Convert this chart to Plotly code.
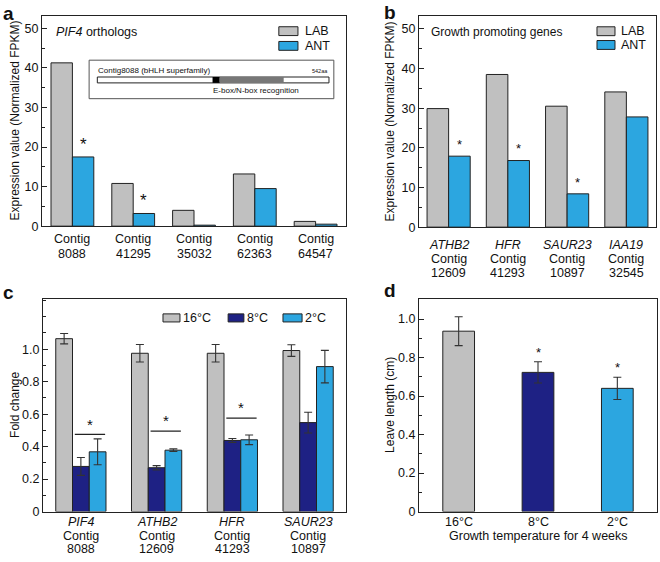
import plotly.graph_objects as go

# ---------------- data ----------------
# panel a
contigs_a = ["8088", "41295", "35032", "62363", "64547"]
lab_a = [41.3, 10.8, 4.0, 13.2, 1.2]
ant_a = [17.5, 3.2, 0.25, 9.5, 0.5]
sig_a = [True, True, False, False, False]

# panel b
genes_b = ["ATHB2", "HFR", "SAUR23", "IAA19"]
contigs_b = ["12609", "41293", "10897", "32545"]
lab_b = [29.9, 38.5, 30.5, 34.1]
ant_b = [17.9, 16.8, 8.4, 27.8]
sig_b = [True, True, True, False]

# panel c
genes_c = ["PIF4", "ATHB2", "HFR", "SAUR23"]
contigs_c = ["8088", "12609", "41293", "10897"]
fc_16 = [1.065, 0.975, 0.975, 0.992]
err_16 = [0.032, 0.054, 0.054, 0.036]
fc_8 = [0.278, 0.270, 0.438, 0.548]
err_8 = [0.055, 0.013, 0.012, 0.064]
fc_2 = [0.368, 0.378, 0.442, 0.893]
err_2 = [0.080, 0.008, 0.030, 0.100]
sig_line_c = [0.475, 0.495, 0.575, None]

# panel d
temps_d = ["16°C", "8°C", "2°C"]
leaf_d = [0.937, 0.723, 0.640]
leaf_err_d = [0.075, 0.055, 0.058]
sig_d = [False, True, True]

ticks_a = [0, 10, 20, 30, 40, 50]
ticks_c = [0, 0.2, 0.4, 0.6, 0.8, 1.0]
ticktext_c = ["0", "0.2", "0.4", "0.6", "0.8", "1.0"]

# ---------------- style ----------------
GRAY = "#C0C0C0"
BLUE = "#2CA6E0"
NAVY = "#1E2184"
FONT = "Liberation Sans, Arial, sans-serif"
W, H = 660, 562
TXT = 12.5

def px_x(a, b):
    return [a / W, b / W]

def px_y(top, bottom):
    return [1 - bottom / H, 1 - top / H]

fig = go.Figure()
line_style = dict(color="#222", width=1)

# ---- panel a ----
xa = list(range(len(contigs_a)))
fig.add_trace(go.Bar(x=xa, y=lab_a, width=0.352, offset=-0.352, marker=dict(color=GRAY, line=line_style),
                     xaxis="x", yaxis="y", showlegend=False))
fig.add_trace(go.Bar(x=xa, y=ant_a, width=0.352, offset=0, marker=dict(color=BLUE, line=line_style),
                     xaxis="x", yaxis="y", showlegend=False))

# ---- panel b ----
xb = list(range(len(genes_b)))
fig.add_trace(go.Bar(x=xb, y=lab_b, width=0.364, offset=-0.364, marker=dict(color=GRAY, line=line_style),
                     xaxis="x2", yaxis="y2", showlegend=False))
fig.add_trace(go.Bar(x=xb, y=ant_b, width=0.364, offset=0, marker=dict(color=BLUE, line=line_style),
                     xaxis="x2", yaxis="y2", showlegend=False))

# ---- panel c ----
xc = list(range(len(genes_c)))
bw = 0.221
eb = dict(type="data", thickness=1.1, width=4, color="#333")
for vals, errs, col, off in [(fc_16, err_16, GRAY, -1.5), (fc_8, err_8, NAVY, -0.5), (fc_2, err_2, BLUE, 0.5)]:
    fig.add_trace(go.Bar(x=xc, y=vals, width=bw, offset=off * bw,
                         error_y=dict(array=errs, **eb),
                         marker=dict(color=col, line=line_style),
                         xaxis="x3", yaxis="y3", showlegend=False))

# ---- panel d ----
xd = list(range(len(temps_d)))
fig.add_trace(go.Bar(x=xd, y=leaf_d, width=0.4, offset=-0.2,
                     error_y=dict(array=leaf_err_d, **eb),
                     marker=dict(color=[GRAY, NAVY, BLUE], line=line_style),
                     xaxis="x4", yaxis="y4", showlegend=False))

# ---------------- axes ----------------
tickfont = dict(family=FONT, size=TXT, color="#111")
axline = dict(showline=True, linecolor="#222", linewidth=1.2, mirror=True, zeroline=False,
              showgrid=False)

def yaxis(domain, rng, tickvals, ticktext, minor_dtick, anchor):
    return dict(domain=domain, range=rng, tickvals=tickvals, ticktext=ticktext,
                ticks="inside", ticklen=5, tickwidth=1, tickcolor="#222",
                minor=dict(ticks="inside", ticklen=3, tickwidth=1, tickcolor="#222",
                           tickmode="linear", tick0=0, dtick=minor_dtick),
                tickfont=tickfont, anchor=anchor, fixedrange=True, **axline)

def xaxis(domain, n, anchor):
    # category labels are drawn below as stacked text lines
    return dict(domain=domain, range=[-0.5, n - 0.5], tickvals=list(range(n)),
                showticklabels=False, ticks="", anchor=anchor, fixedrange=True, **axline)

fig.update_layout(
    width=W, height=H, margin=dict(l=0, r=0, t=0, b=0),
    paper_bgcolor="white", plot_bgcolor="white",
    font=dict(family=FONT, color="#111"),
    barmode="overlay",
    xaxis=xaxis(px_x(42, 346), len(contigs_a), "y"),
    yaxis=yaxis(px_y(16, 229), [0, 53.2], ticks_a, [str(v) for v in ticks_a], 5, "x"),
    xaxis2=xaxis(px_x(419, 656), len(genes_b), "y2"),
    yaxis2=yaxis(px_y(16, 230), [0, 53.3], ticks_a, [str(v) for v in ticks_a], 5, "x2"),
    xaxis3=xaxis(px_x(43, 346), len(genes_c), "y3"),
    yaxis3=yaxis(px_y(303, 518), [0, 1.308], ticks_c, ticktext_c, 0.1, "x3"),
    xaxis4=xaxis(px_x(419, 657), len(temps_d), "y4"),
    yaxis4=yaxis(px_y(303, 518), [0, 1.103], ticks_c, ticktext_c, 0.1, "x4"),
)

ann = []
shapes = []

def text(x, y, s, size=12, xref="paper", yref="paper", xanchor="center", yanchor="middle", angle=0,
         bold=False):
    ann.append(dict(x=x, y=y, text=(f"<b>{s}</b>" if bold else s), xref=xref, yref=yref,
                    xanchor=xanchor, yanchor=yanchor, textangle=angle, showarrow=False,
                    borderpad=0, font=dict(family=FONT, size=size, color="#111")))

# category labels (stacked lines under each group)
def cat_labels(xref, labels_lines, ys):
    for i, lines in enumerate(labels_lines):
        for s, yy in zip(lines, ys):
            text(i, 1 - yy / H, s, TXT, xref=xref)

cat_labels("x", [["Contig", c] for c in contigs_a], [242, 257])
cat_labels("x2", [[f"<i>{g}</i>", "Contig", c] for g, c in zip(genes_b, contigs_b)], [248, 262, 276])
cat_labels("x3", [[f"<i>{g}</i>", "Contig", c] for g, c in zip(genes_c, contigs_c)], [529, 543, 556])
cat_labels("x4", [[t] for t in temps_d], [529])

# panel letters
text(2 / W, 1 - 2 / H, "a", 19, xanchor="left", yanchor="top", bold=True)
text(383 / W, 1 - 1 / H, "b", 19, xanchor="left", yanchor="top", bold=True)
text(2 / W, 1 - 285 / H, "c", 19, xanchor="left", yanchor="top", bold=True)
text(383 / W, 1 - 283 / H, "d", 19, xanchor="left", yanchor="top", bold=True)

# y titles
text(15 / W, 1 - 122 / H, "Expression value (Normalized FPKM)", 12, angle=-90)
text(390 / W, 1 - 123 / H, "Expression value (Normalized FPKM)", 12, angle=-90)
text(15 / W, 1 - 410 / H, "Fold change", 12, angle=-90)
text(390 / W, 1 - 410 / H, "Leave length (cm)", 12, angle=-90)
text(538 / W, 1 - 543 / H, "Growth temperature for 4 weeks", 12.5)

# in-plot titles
text(0.043, 0.925, "<i>PIF4</i> orthologs", 12.5, xref="x domain", yref="y domain", xanchor="left")
text(0.046, 0.925, "Growth promoting genes", 12, xref="x2 domain", yref="y2 domain", xanchor="left")

# legends
def legend_box(xr, yr, x0, x1, yc, h, color, label, size=13, gap=0.02):
    shapes.append(dict(type="rect", xref=xr, yref=yr, x0=x0, x1=x1, y0=yc - h, y1=yc + h,
                       fillcolor=color, line=dict(color="#222", width=1)))
    text(x1 + gap, yc, label, size, xref=xr, yref=yr, xanchor="left")

legend_box("x domain", "y domain", 0.779, 0.842, 0.927, 0.021, GRAY, "LAB", 12.5)
legend_box("x domain", "y domain", 0.779, 0.842, 0.857, 0.021, BLUE, "ANT", 12.5)
legend_box("x2 domain", "y2 domain", 0.751, 0.827, 0.927, 0.021, GRAY, "LAB", 12.5)
legend_box("x2 domain", "y2 domain", 0.751, 0.827, 0.862, 0.021, BLUE, "ANT", 12.5)
legend_box("x3 domain", "y3 domain", 0.396, 0.452, 0.912, 0.019, GRAY, "16°C", 12.5, 0.008)
legend_box("x3 domain", "y3 domain", 0.611, 0.663, 0.912, 0.019, NAVY, "8°C", 12.5, 0.008)
legend_box("x3 domain", "y3 domain", 0.792, 0.855, 0.912, 0.019, BLUE, "2°C", 12.5, 0.008)

# inset in panel a (protein domain diagram)
shapes.append(dict(type="rect", xref="x domain", yref="y domain", x0=0.155, x1=0.960, y0=0.606, y1=0.789,
                   fillcolor="white", line=dict(color="#555", width=1)))
shapes.append(dict(type="rect", xref="x domain", yref="y domain", x0=0.182, x1=0.944, y0=0.681, y1=0.709,
                   fillcolor="white", line=dict(color="#222", width=1)))
shapes.append(dict(type="rect", xref="x domain", yref="y domain", x0=0.584, x1=0.795, y0=0.681, y1=0.709,
                   fillcolor="#777", line=dict(width=0)))
shapes.append(dict(type="rect", xref="x domain", yref="y domain", x0=0.561, x1=0.584, y0=0.681, y1=0.709,
                   fillcolor="#000", line=dict(width=0)))
text(0.182, 0.742, "Contig8088 (bHLH superfamily)", 8, xref="x domain", yref="y domain", xanchor="left")
text(0.944, 0.737, "542aa", 5.5, xref="x domain", yref="y domain", xanchor="right")
text(0.703, 0.645, "E-box/N-box recognition", 8, xref="x domain", yref="y domain")

# significance asterisks
for i, s in enumerate(sig_a):
    if s:
        text(i + 0.176, ant_a[i] + 0.6, "*", 17, xref="x", yref="y", yanchor="bottom")
for i, s in enumerate(sig_b):
    if s:
        text(i + 0.182, ant_b[i] + 0.8, "*", 13, xref="x2", yref="y2", yanchor="bottom")
for i, h in enumerate(sig_line_c):
    if h is not None:
        shapes.append(dict(type="line", xref="x3", yref="y3", x0=i - 0.08, x1=i + 0.32, y0=h, y1=h,
                           line=dict(color="#222", width=1.2)))
        text(i + 0.12, h + 0.005, "*", 15, xref="x3", yref="y3", yanchor="bottom")
for i, s in enumerate(sig_d):
    if s:
        text(i, leaf_d[i] + leaf_err_d[i] + 0.005, "*", 13, xref="x4", yref="y4", yanchor="bottom")

fig.update_layout(annotations=ann, shapes=shapes)
fig.write_html("out.html", config={"displayModeBar": False},
               post_script="document.body.style.margin='0px';document.body.style.overflow='hidden';")
